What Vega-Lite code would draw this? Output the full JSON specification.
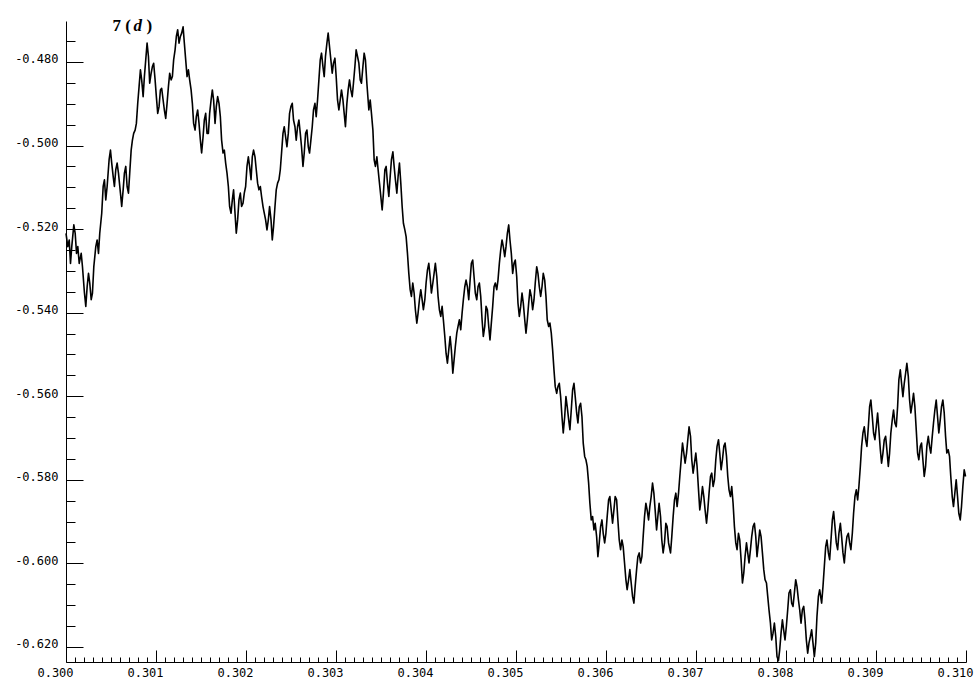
{
"$schema": "https://vega.github.io/schema/vega-lite/v6.json",
"width": 900,
"height": 641,
"autosize": {"type": "none"},
"padding": {"left": 66, "top": 21, "right": 10, "bottom": 33},
"background": "white",
"config": {"view": {"stroke": null}, "axis": {"grid": false, "domainColor": "black", "tickColor": "black", "labelColor": "black", "labelFont": "DejaVu Sans Mono", "labelFontSize": 12, "domainWidth": 1, "tickWidth": 1}},
"data": {"values": [
{"x":0.300000,"y":-0.5210},{"x":0.300020,"y":-0.5242},{"x":0.300036,"y":-0.5226},{"x":0.300050,"y":-0.5282},{"x":0.300064,"y":-0.5242},{"x":0.300087,"y":-0.5190},{"x":0.300102,"y":-0.5210},{"x":0.300117,"y":-0.5258},{"x":0.300131,"y":-0.5242},{"x":0.300147,"y":-0.5282},
{"x":0.300169,"y":-0.5258},{"x":0.300183,"y":-0.5290},{"x":0.300205,"y":-0.5353},{"x":0.300220,"y":-0.5385},{"x":0.300235,"y":-0.5338},{"x":0.300250,"y":-0.5306},{"x":0.300264,"y":-0.5329},{"x":0.300280,"y":-0.5369},{"x":0.300294,"y":-0.5353},{"x":0.300309,"y":-0.5290},
{"x":0.300331,"y":-0.5242},{"x":0.300346,"y":-0.5226},{"x":0.300361,"y":-0.5258},{"x":0.300375,"y":-0.5210},{"x":0.300397,"y":-0.5162},{"x":0.300413,"y":-0.5098},{"x":0.300427,"y":-0.5082},{"x":0.300442,"y":-0.5130},{"x":0.300457,"y":-0.5098},{"x":0.300479,"y":-0.5034},
{"x":0.300494,"y":-0.5011},{"x":0.300508,"y":-0.5042},{"x":0.300524,"y":-0.5074},{"x":0.300538,"y":-0.5098},{"x":0.300553,"y":-0.5058},{"x":0.300568,"y":-0.5042},{"x":0.300583,"y":-0.5066},{"x":0.300605,"y":-0.5114},{"x":0.300619,"y":-0.5146},{"x":0.300635,"y":-0.5106},
{"x":0.300649,"y":-0.5066},{"x":0.300664,"y":-0.5050},{"x":0.300679,"y":-0.5098},{"x":0.300694,"y":-0.5114},{"x":0.300708,"y":-0.5066},{"x":0.300724,"y":-0.5011},{"x":0.300738,"y":-0.4987},{"x":0.300752,"y":-0.4971},{"x":0.300768,"y":-0.4963},{"x":0.300782,"y":-0.4947},
{"x":0.300797,"y":-0.4899},{"x":0.300812,"y":-0.4859},{"x":0.300827,"y":-0.4819},{"x":0.300841,"y":-0.4843},{"x":0.300857,"y":-0.4883},{"x":0.300871,"y":-0.4835},{"x":0.300886,"y":-0.4795},{"x":0.300901,"y":-0.4755},{"x":0.300916,"y":-0.4787},{"x":0.300930,"y":-0.4851},
{"x":0.300946,"y":-0.4827},{"x":0.300960,"y":-0.4811},{"x":0.300974,"y":-0.4803},{"x":0.300990,"y":-0.4843},{"x":0.301004,"y":-0.4883},{"x":0.301019,"y":-0.4923},{"x":0.301034,"y":-0.4907},{"x":0.301049,"y":-0.4867},{"x":0.301063,"y":-0.4863},{"x":0.301079,"y":-0.4891},
{"x":0.301093,"y":-0.4915},{"x":0.301108,"y":-0.4935},{"x":0.301123,"y":-0.4899},{"x":0.301138,"y":-0.4859},{"x":0.301152,"y":-0.4827},{"x":0.301168,"y":-0.4843},{"x":0.301182,"y":-0.4835},{"x":0.301196,"y":-0.4795},{"x":0.301212,"y":-0.4771},{"x":0.301226,"y":-0.4739},
{"x":0.301241,"y":-0.4723},{"x":0.301256,"y":-0.4755},{"x":0.301271,"y":-0.4739},{"x":0.301285,"y":-0.4731},{"x":0.301301,"y":-0.4716},{"x":0.301315,"y":-0.4755},{"x":0.301330,"y":-0.4795},{"x":0.301345,"y":-0.4835},{"x":0.301360,"y":-0.4819},{"x":0.301374,"y":-0.4843},
{"x":0.301390,"y":-0.4867},{"x":0.301404,"y":-0.4899},{"x":0.301418,"y":-0.4947},{"x":0.301434,"y":-0.4963},{"x":0.301448,"y":-0.4931},{"x":0.301463,"y":-0.4915},{"x":0.301478,"y":-0.4947},{"x":0.301493,"y":-0.4987},{"x":0.301507,"y":-0.5018},{"x":0.301523,"y":-0.4979},
{"x":0.301537,"y":-0.4939},{"x":0.301552,"y":-0.4923},{"x":0.301567,"y":-0.4971},{"x":0.301582,"y":-0.4971},{"x":0.301596,"y":-0.4923},{"x":0.301612,"y":-0.4891},{"x":0.301626,"y":-0.4867},{"x":0.301640,"y":-0.4891},{"x":0.301656,"y":-0.4947},{"x":0.301670,"y":-0.4907},
{"x":0.301685,"y":-0.4883},{"x":0.301700,"y":-0.4899},{"x":0.301715,"y":-0.4931},{"x":0.301729,"y":-0.4987},{"x":0.301745,"y":-0.5018},{"x":0.301759,"y":-0.5011},{"x":0.301774,"y":-0.5042},{"x":0.301789,"y":-0.5066},{"x":0.301804,"y":-0.5098},{"x":0.301818,"y":-0.5146},
{"x":0.301834,"y":-0.5162},{"x":0.301848,"y":-0.5130},{"x":0.301862,"y":-0.5106},{"x":0.301878,"y":-0.5162},{"x":0.301892,"y":-0.5210},{"x":0.301907,"y":-0.5178},{"x":0.301922,"y":-0.5130},{"x":0.301937,"y":-0.5114},{"x":0.301951,"y":-0.5146},{"x":0.301967,"y":-0.5138},
{"x":0.301981,"y":-0.5114},{"x":0.301996,"y":-0.5098},{"x":0.302011,"y":-0.5050},{"x":0.302026,"y":-0.5027},{"x":0.302040,"y":-0.5050},{"x":0.302056,"y":-0.5082},{"x":0.302070,"y":-0.5027},{"x":0.302084,"y":-0.5011},{"x":0.302100,"y":-0.5027},{"x":0.302114,"y":-0.5058},
{"x":0.302129,"y":-0.5090},{"x":0.302144,"y":-0.5106},{"x":0.302159,"y":-0.5098},{"x":0.302173,"y":-0.5122},{"x":0.302189,"y":-0.5146},{"x":0.302203,"y":-0.5162},{"x":0.302218,"y":-0.5178},{"x":0.302233,"y":-0.5202},{"x":0.302248,"y":-0.5178},{"x":0.302262,"y":-0.5146},
{"x":0.302278,"y":-0.5178},{"x":0.302292,"y":-0.5226},{"x":0.302306,"y":-0.5194},{"x":0.302322,"y":-0.5146},{"x":0.302336,"y":-0.5106},{"x":0.302351,"y":-0.5090},{"x":0.302366,"y":-0.5082},{"x":0.302381,"y":-0.5058},{"x":0.302395,"y":-0.5018},{"x":0.302411,"y":-0.4971},
{"x":0.302425,"y":-0.4955},{"x":0.302440,"y":-0.4979},{"x":0.302455,"y":-0.5003},{"x":0.302470,"y":-0.4971},{"x":0.302484,"y":-0.4923},{"x":0.302499,"y":-0.4907},{"x":0.302514,"y":-0.4899},{"x":0.302528,"y":-0.4939},{"x":0.302544,"y":-0.4955},{"x":0.302558,"y":-0.4987},
{"x":0.302573,"y":-0.4955},{"x":0.302588,"y":-0.4939},{"x":0.302603,"y":-0.4971},{"x":0.302617,"y":-0.5003},{"x":0.302633,"y":-0.5050},{"x":0.302647,"y":-0.5018},{"x":0.302662,"y":-0.4971},{"x":0.302677,"y":-0.4963},{"x":0.302692,"y":-0.5003},{"x":0.302706,"y":-0.5018},
{"x":0.302721,"y":-0.4987},{"x":0.302736,"y":-0.4955},{"x":0.302750,"y":-0.4915},{"x":0.302766,"y":-0.4899},{"x":0.302780,"y":-0.4931},{"x":0.302795,"y":-0.4891},{"x":0.302810,"y":-0.4843},{"x":0.302825,"y":-0.4795},{"x":0.302839,"y":-0.4779},{"x":0.302855,"y":-0.4811},
{"x":0.302869,"y":-0.4835},{"x":0.302883,"y":-0.4787},{"x":0.302899,"y":-0.4755},{"x":0.302913,"y":-0.4731},{"x":0.302928,"y":-0.4763},{"x":0.302943,"y":-0.4795},{"x":0.302958,"y":-0.4827},{"x":0.302972,"y":-0.4803},{"x":0.302988,"y":-0.4791},{"x":0.303002,"y":-0.4835},
{"x":0.303017,"y":-0.4891},{"x":0.303032,"y":-0.4915},{"x":0.303047,"y":-0.4891},{"x":0.303061,"y":-0.4867},{"x":0.303077,"y":-0.4891},{"x":0.303091,"y":-0.4923},{"x":0.303105,"y":-0.4955},{"x":0.303121,"y":-0.4899},{"x":0.303135,"y":-0.4867},{"x":0.303150,"y":-0.4843},
{"x":0.303165,"y":-0.4867},{"x":0.303180,"y":-0.4883},{"x":0.303194,"y":-0.4851},{"x":0.303210,"y":-0.4811},{"x":0.303224,"y":-0.4771},{"x":0.303239,"y":-0.4787},{"x":0.303254,"y":-0.4803},{"x":0.303269,"y":-0.4843},{"x":0.303283,"y":-0.4851},{"x":0.303299,"y":-0.4811},
{"x":0.303313,"y":-0.4779},{"x":0.303327,"y":-0.4795},{"x":0.303343,"y":-0.4851},{"x":0.303365,"y":-0.4915},{"x":0.303380,"y":-0.4891},{"x":0.303394,"y":-0.4923},{"x":0.303410,"y":-0.4963},{"x":0.303424,"y":-0.5034},{"x":0.303438,"y":-0.5050},{"x":0.303454,"y":-0.5027},
{"x":0.303468,"y":-0.5058},{"x":0.303483,"y":-0.5090},{"x":0.303498,"y":-0.5122},{"x":0.303513,"y":-0.5154},{"x":0.303527,"y":-0.5114},{"x":0.303543,"y":-0.5058},{"x":0.303557,"y":-0.5050},{"x":0.303572,"y":-0.5090},{"x":0.303587,"y":-0.5122},{"x":0.303602,"y":-0.5074},
{"x":0.303616,"y":-0.5034},{"x":0.303632,"y":-0.5015},{"x":0.303646,"y":-0.5050},{"x":0.303660,"y":-0.5082},{"x":0.303676,"y":-0.5114},{"x":0.303690,"y":-0.5074},{"x":0.303705,"y":-0.5042},{"x":0.303720,"y":-0.5090},{"x":0.303735,"y":-0.5146},{"x":0.303749,"y":-0.5186},
{"x":0.303765,"y":-0.5202},{"x":0.303779,"y":-0.5218},{"x":0.303794,"y":-0.5258},{"x":0.303809,"y":-0.5306},{"x":0.303824,"y":-0.5345},{"x":0.303838,"y":-0.5361},{"x":0.303853,"y":-0.5329},{"x":0.303868,"y":-0.5353},{"x":0.303882,"y":-0.5393},{"x":0.303898,"y":-0.5425},
{"x":0.303912,"y":-0.5401},{"x":0.303927,"y":-0.5369},{"x":0.303942,"y":-0.5345},{"x":0.303957,"y":-0.5369},{"x":0.303971,"y":-0.5393},{"x":0.303987,"y":-0.5369},{"x":0.304001,"y":-0.5329},{"x":0.304016,"y":-0.5298},{"x":0.304031,"y":-0.5282},{"x":0.304046,"y":-0.5314},
{"x":0.304060,"y":-0.5353},{"x":0.304076,"y":-0.5329},{"x":0.304090,"y":-0.5306},{"x":0.304104,"y":-0.5282},{"x":0.304120,"y":-0.5314},{"x":0.304134,"y":-0.5361},{"x":0.304149,"y":-0.5393},{"x":0.304164,"y":-0.5409},{"x":0.304179,"y":-0.5385},{"x":0.304193,"y":-0.5417},
{"x":0.304209,"y":-0.5457},{"x":0.304223,"y":-0.5497},{"x":0.304238,"y":-0.5521},{"x":0.304253,"y":-0.5489},{"x":0.304268,"y":-0.5457},{"x":0.304282,"y":-0.5489},{"x":0.304298,"y":-0.5545},{"x":0.304312,"y":-0.5513},{"x":0.304326,"y":-0.5481},{"x":0.304342,"y":-0.5449},
{"x":0.304356,"y":-0.5433},{"x":0.304371,"y":-0.5417},{"x":0.304386,"y":-0.5441},{"x":0.304401,"y":-0.5401},{"x":0.304415,"y":-0.5369},{"x":0.304431,"y":-0.5338},{"x":0.304445,"y":-0.5322},{"x":0.304460,"y":-0.5338},{"x":0.304475,"y":-0.5369},{"x":0.304490,"y":-0.5322},
{"x":0.304504,"y":-0.5282},{"x":0.304519,"y":-0.5274},{"x":0.304534,"y":-0.5314},{"x":0.304548,"y":-0.5353},{"x":0.304564,"y":-0.5369},{"x":0.304578,"y":-0.5338},{"x":0.304593,"y":-0.5329},{"x":0.304608,"y":-0.5361},{"x":0.304623,"y":-0.5417},{"x":0.304637,"y":-0.5457},
{"x":0.304653,"y":-0.5433},{"x":0.304667,"y":-0.5385},{"x":0.304682,"y":-0.5393},{"x":0.304697,"y":-0.5433},{"x":0.304711,"y":-0.5465},{"x":0.304726,"y":-0.5425},{"x":0.304741,"y":-0.5385},{"x":0.304756,"y":-0.5338},{"x":0.304770,"y":-0.5329},{"x":0.304786,"y":-0.5345},
{"x":0.304800,"y":-0.5322},{"x":0.304815,"y":-0.5282},{"x":0.304830,"y":-0.5250},{"x":0.304845,"y":-0.5226},{"x":0.304859,"y":-0.5242},{"x":0.304875,"y":-0.5266},{"x":0.304889,"y":-0.5242},{"x":0.304904,"y":-0.5210},{"x":0.304919,"y":-0.5190},{"x":0.304933,"y":-0.5226},
{"x":0.304948,"y":-0.5258},{"x":0.304963,"y":-0.5306},{"x":0.304978,"y":-0.5282},{"x":0.304992,"y":-0.5274},{"x":0.305008,"y":-0.5314},{"x":0.305022,"y":-0.5377},{"x":0.305037,"y":-0.5409},{"x":0.305052,"y":-0.5385},{"x":0.305067,"y":-0.5353},{"x":0.305081,"y":-0.5377},
{"x":0.305097,"y":-0.5417},{"x":0.305111,"y":-0.5449},{"x":0.305126,"y":-0.5417},{"x":0.305141,"y":-0.5377},{"x":0.305155,"y":-0.5345},{"x":0.305170,"y":-0.5361},{"x":0.305185,"y":-0.5393},{"x":0.305200,"y":-0.5369},{"x":0.305214,"y":-0.5329},{"x":0.305230,"y":-0.5290},
{"x":0.305244,"y":-0.5306},{"x":0.305259,"y":-0.5338},{"x":0.305274,"y":-0.5361},{"x":0.305289,"y":-0.5338},{"x":0.305303,"y":-0.5306},{"x":0.305319,"y":-0.5322},{"x":0.305333,"y":-0.5361},{"x":0.305347,"y":-0.5417},{"x":0.305363,"y":-0.5433},{"x":0.305377,"y":-0.5425},
{"x":0.305392,"y":-0.5449},{"x":0.305407,"y":-0.5489},{"x":0.305422,"y":-0.5537},{"x":0.305436,"y":-0.5577},{"x":0.305452,"y":-0.5593},{"x":0.305466,"y":-0.5577},{"x":0.305481,"y":-0.5569},{"x":0.305496,"y":-0.5601},{"x":0.305511,"y":-0.5649},{"x":0.305525,"y":-0.5688},
{"x":0.305541,"y":-0.5649},{"x":0.305555,"y":-0.5601},{"x":0.305569,"y":-0.5625},{"x":0.305585,"y":-0.5656},{"x":0.305599,"y":-0.5680},{"x":0.305614,"y":-0.5633},{"x":0.305629,"y":-0.5585},{"x":0.305644,"y":-0.5569},{"x":0.305658,"y":-0.5601},{"x":0.305674,"y":-0.5640},
{"x":0.305688,"y":-0.5664},{"x":0.305703,"y":-0.5625},{"x":0.305718,"y":-0.5617},{"x":0.305733,"y":-0.5649},{"x":0.305747,"y":-0.5712},{"x":0.305763,"y":-0.5744},{"x":0.305777,"y":-0.5752},{"x":0.305791,"y":-0.5768},{"x":0.305807,"y":-0.5808},{"x":0.305821,"y":-0.5856},
{"x":0.305836,"y":-0.5896},{"x":0.305851,"y":-0.5888},{"x":0.305866,"y":-0.5920},{"x":0.305880,"y":-0.5904},{"x":0.305896,"y":-0.5936},{"x":0.305910,"y":-0.5984},{"x":0.305925,"y":-0.5951},{"x":0.305940,"y":-0.5912},{"x":0.305955,"y":-0.5896},{"x":0.305969,"y":-0.5928},
{"x":0.305985,"y":-0.5951},{"x":0.305999,"y":-0.5928},{"x":0.306013,"y":-0.5888},{"x":0.306029,"y":-0.5848},{"x":0.306043,"y":-0.5840},{"x":0.306058,"y":-0.5872},{"x":0.306073,"y":-0.5904},{"x":0.306088,"y":-0.5872},{"x":0.306102,"y":-0.5840},{"x":0.306118,"y":-0.5848},
{"x":0.306132,"y":-0.5896},{"x":0.306147,"y":-0.5944},{"x":0.306162,"y":-0.5967},{"x":0.306177,"y":-0.5944},{"x":0.306191,"y":-0.5960},{"x":0.306206,"y":-0.5999},{"x":0.306221,"y":-0.6039},{"x":0.306235,"y":-0.6063},{"x":0.306251,"y":-0.6039},{"x":0.306265,"y":-0.6015},
{"x":0.306280,"y":-0.6047},{"x":0.306295,"y":-0.6079},{"x":0.306310,"y":-0.6095},{"x":0.306324,"y":-0.6055},{"x":0.306340,"y":-0.6015},{"x":0.306354,"y":-0.5984},{"x":0.306369,"y":-0.5975},{"x":0.306384,"y":-0.5999},{"x":0.306399,"y":-0.5984},{"x":0.306413,"y":-0.5936},
{"x":0.306428,"y":-0.5888},{"x":0.306443,"y":-0.5856},{"x":0.306457,"y":-0.5872},{"x":0.306473,"y":-0.5896},{"x":0.306487,"y":-0.5864},{"x":0.306502,"y":-0.5840},{"x":0.306517,"y":-0.5808},{"x":0.306532,"y":-0.5832},{"x":0.306546,"y":-0.5872},{"x":0.306562,"y":-0.5920},
{"x":0.306576,"y":-0.5888},{"x":0.306590,"y":-0.5856},{"x":0.306606,"y":-0.5888},{"x":0.306620,"y":-0.5944},{"x":0.306635,"y":-0.5975},{"x":0.306650,"y":-0.5951},{"x":0.306665,"y":-0.5904},{"x":0.306679,"y":-0.5912},{"x":0.306695,"y":-0.5951},{"x":0.306717,"y":-0.5975},
{"x":0.306731,"y":-0.5936},{"x":0.306746,"y":-0.5888},{"x":0.306761,"y":-0.5848},{"x":0.306776,"y":-0.5832},{"x":0.306790,"y":-0.5864},{"x":0.306806,"y":-0.5832},{"x":0.306820,"y":-0.5792},{"x":0.306835,"y":-0.5752},{"x":0.306850,"y":-0.5712},{"x":0.306865,"y":-0.5736},
{"x":0.306879,"y":-0.5760},{"x":0.306895,"y":-0.5736},{"x":0.306909,"y":-0.5704},{"x":0.306923,"y":-0.5673},{"x":0.306939,"y":-0.5696},{"x":0.306953,"y":-0.5752},{"x":0.306968,"y":-0.5784},{"x":0.306983,"y":-0.5760},{"x":0.306998,"y":-0.5736},{"x":0.307012,"y":-0.5768},
{"x":0.307028,"y":-0.5824},{"x":0.307042,"y":-0.5872},{"x":0.307057,"y":-0.5848},{"x":0.307072,"y":-0.5816},{"x":0.307087,"y":-0.5840},{"x":0.307101,"y":-0.5872},{"x":0.307117,"y":-0.5904},{"x":0.307131,"y":-0.5872},{"x":0.307145,"y":-0.5832},{"x":0.307161,"y":-0.5792},
{"x":0.307175,"y":-0.5784},{"x":0.307190,"y":-0.5816},{"x":0.307205,"y":-0.5800},{"x":0.307220,"y":-0.5752},{"x":0.307234,"y":-0.5720},{"x":0.307250,"y":-0.5704},{"x":0.307264,"y":-0.5736},{"x":0.307279,"y":-0.5776},{"x":0.307294,"y":-0.5752},{"x":0.307309,"y":-0.5720},
{"x":0.307323,"y":-0.5712},{"x":0.307339,"y":-0.5744},{"x":0.307353,"y":-0.5792},{"x":0.307367,"y":-0.5824},{"x":0.307383,"y":-0.5840},{"x":0.307397,"y":-0.5816},{"x":0.307412,"y":-0.5856},{"x":0.307427,"y":-0.5912},{"x":0.307442,"y":-0.5951},{"x":0.307456,"y":-0.5967},
{"x":0.307472,"y":-0.5928},{"x":0.307486,"y":-0.5944},{"x":0.307501,"y":-0.5991},{"x":0.307516,"y":-0.6047},{"x":0.307531,"y":-0.6023},{"x":0.307545,"y":-0.5984},{"x":0.307561,"y":-0.5951},{"x":0.307575,"y":-0.5975},{"x":0.307589,"y":-0.5999},{"x":0.307605,"y":-0.5967},
{"x":0.307619,"y":-0.5936},{"x":0.307634,"y":-0.5912},{"x":0.307649,"y":-0.5904},{"x":0.307664,"y":-0.5936},{"x":0.307678,"y":-0.5984},{"x":0.307694,"y":-0.5951},{"x":0.307708,"y":-0.5920},{"x":0.307723,"y":-0.5936},{"x":0.307738,"y":-0.5975},{"x":0.307753,"y":-0.6015},
{"x":0.307767,"y":-0.6039},{"x":0.307783,"y":-0.6047},{"x":0.307797,"y":-0.6079},{"x":0.307811,"y":-0.6111},{"x":0.307827,"y":-0.6143},{"x":0.307841,"y":-0.6183},{"x":0.307856,"y":-0.6167},{"x":0.307871,"y":-0.6143},{"x":0.307886,"y":-0.6175},{"x":0.307900,"y":-0.6223},
{"x":0.307916,"y":-0.6233},{"x":0.307930,"y":-0.6207},{"x":0.307945,"y":-0.6167},{"x":0.307960,"y":-0.6135},{"x":0.307974,"y":-0.6159},{"x":0.307989,"y":-0.6183},{"x":0.308004,"y":-0.6151},{"x":0.308019,"y":-0.6111},{"x":0.308033,"y":-0.6071},{"x":0.308049,"y":-0.6063},
{"x":0.308063,"y":-0.6095},{"x":0.308078,"y":-0.6103},{"x":0.308093,"y":-0.6071},{"x":0.308108,"y":-0.6039},{"x":0.308122,"y":-0.6055},{"x":0.308138,"y":-0.6087},{"x":0.308152,"y":-0.6111},{"x":0.308167,"y":-0.6143},{"x":0.308182,"y":-0.6111},{"x":0.308197,"y":-0.6103},
{"x":0.308211,"y":-0.6135},{"x":0.308226,"y":-0.6183},{"x":0.308241,"y":-0.6215},{"x":0.308255,"y":-0.6191},{"x":0.308271,"y":-0.6175},{"x":0.308285,"y":-0.6159},{"x":0.308300,"y":-0.6191},{"x":0.308315,"y":-0.6223},{"x":0.308330,"y":-0.6191},{"x":0.308344,"y":-0.6127},
{"x":0.308360,"y":-0.6079},{"x":0.308374,"y":-0.6063},{"x":0.308396,"y":-0.6095},{"x":0.308411,"y":-0.6055},{"x":0.308426,"y":-0.6007},{"x":0.308441,"y":-0.5960},{"x":0.308455,"y":-0.5944},{"x":0.308471,"y":-0.5975},{"x":0.308485,"y":-0.5991},{"x":0.308500,"y":-0.5944},
{"x":0.308515,"y":-0.5896},{"x":0.308529,"y":-0.5876},{"x":0.308544,"y":-0.5912},{"x":0.308559,"y":-0.5951},{"x":0.308574,"y":-0.5967},{"x":0.308588,"y":-0.5928},{"x":0.308604,"y":-0.5904},{"x":0.308618,"y":-0.5936},{"x":0.308633,"y":-0.5975},{"x":0.308648,"y":-0.5999},
{"x":0.308663,"y":-0.5960},{"x":0.308677,"y":-0.5936},{"x":0.308693,"y":-0.5928},{"x":0.308707,"y":-0.5951},{"x":0.308721,"y":-0.5967},{"x":0.308737,"y":-0.5928},{"x":0.308751,"y":-0.5880},{"x":0.308766,"y":-0.5840},{"x":0.308781,"y":-0.5824},{"x":0.308796,"y":-0.5848},
{"x":0.308810,"y":-0.5816},{"x":0.308826,"y":-0.5768},{"x":0.308840,"y":-0.5720},{"x":0.308855,"y":-0.5688},{"x":0.308870,"y":-0.5673},{"x":0.308885,"y":-0.5704},{"x":0.308899,"y":-0.5720},{"x":0.308915,"y":-0.5673},{"x":0.308929,"y":-0.5625},{"x":0.308943,"y":-0.5609},
{"x":0.308959,"y":-0.5649},{"x":0.308973,"y":-0.5688},{"x":0.308988,"y":-0.5704},{"x":0.309003,"y":-0.5673},{"x":0.309018,"y":-0.5640},{"x":0.309032,"y":-0.5680},{"x":0.309048,"y":-0.5728},{"x":0.309062,"y":-0.5760},{"x":0.309077,"y":-0.5736},{"x":0.309092,"y":-0.5704},
{"x":0.309107,"y":-0.5696},{"x":0.309121,"y":-0.5728},{"x":0.309137,"y":-0.5768},{"x":0.309151,"y":-0.5736},{"x":0.309165,"y":-0.5688},{"x":0.309181,"y":-0.5656},{"x":0.309195,"y":-0.5633},{"x":0.309210,"y":-0.5664},{"x":0.309225,"y":-0.5673},{"x":0.309240,"y":-0.5625},
{"x":0.309254,"y":-0.5561},{"x":0.309270,"y":-0.5537},{"x":0.309284,"y":-0.5569},{"x":0.309299,"y":-0.5601},{"x":0.309314,"y":-0.5569},{"x":0.309329,"y":-0.5545},{"x":0.309343,"y":-0.5521},{"x":0.309359,"y":-0.5553},{"x":0.309373,"y":-0.5609},{"x":0.309387,"y":-0.5640},
{"x":0.309403,"y":-0.5617},{"x":0.309417,"y":-0.5593},{"x":0.309432,"y":-0.5625},{"x":0.309447,"y":-0.5680},{"x":0.309462,"y":-0.5736},{"x":0.309476,"y":-0.5752},{"x":0.309492,"y":-0.5720},{"x":0.309506,"y":-0.5712},{"x":0.309521,"y":-0.5752},{"x":0.309536,"y":-0.5792},
{"x":0.309551,"y":-0.5768},{"x":0.309565,"y":-0.5720},{"x":0.309581,"y":-0.5696},{"x":0.309595,"y":-0.5720},{"x":0.309609,"y":-0.5736},{"x":0.309625,"y":-0.5696},{"x":0.309639,"y":-0.5664},{"x":0.309654,"y":-0.5633},{"x":0.309669,"y":-0.5609},{"x":0.309684,"y":-0.5649},
{"x":0.309698,"y":-0.5688},{"x":0.309714,"y":-0.5656},{"x":0.309728,"y":-0.5625},{"x":0.309743,"y":-0.5609},{"x":0.309758,"y":-0.5640},{"x":0.309773,"y":-0.5696},{"x":0.309787,"y":-0.5736},{"x":0.309802,"y":-0.5728},{"x":0.309817,"y":-0.5744},{"x":0.309831,"y":-0.5792},
{"x":0.309847,"y":-0.5840},{"x":0.309861,"y":-0.5864},{"x":0.309876,"y":-0.5832},{"x":0.309891,"y":-0.5800},{"x":0.309906,"y":-0.5840},{"x":0.309920,"y":-0.5880},{"x":0.309936,"y":-0.5896},{"x":0.309950,"y":-0.5864},{"x":0.309965,"y":-0.5816},{"x":0.309980,"y":-0.5776},
{"x":0.309995,"y":-0.5792}
]},
"layer": [
{"mark": {"type": "line", "color": "black", "strokeWidth": 1.6, "strokeJoin": "round"},
 "encoding": {
  "x": {"field": "x", "type": "quantitative", "title": null,
        "scale": {"domain": [0.3, 0.31], "nice": false, "zero": false},
        "axis": {"title": null, "tickCount": 500,
          "values": [0.3,0.3001,0.3002,0.3003,0.3004,0.3005,0.3006,0.3007,0.3008,0.3009,0.301,0.3011,0.3012,0.3013,0.3014,0.3015,0.3016,0.3017,0.3018,0.3019,0.302,0.3021,0.3022,0.3023,0.3024,0.3025,0.3026,0.3027,0.3028,0.3029,0.303,0.3031,0.3032,0.3033,0.3034,0.3035,0.3036,0.3037,0.3038,0.3039,0.304,0.3041,0.3042,0.3043,0.3044,0.3045,0.3046,0.3047,0.3048,0.3049,0.305,0.3051,0.3052,0.3053,0.3054,0.3055,0.3056,0.3057,0.3058,0.3059,0.306,0.3061,0.3062,0.3063,0.3064,0.3065,0.3066,0.3067,0.3068,0.3069,0.307,0.3071,0.3072,0.3073,0.3074,0.3075,0.3076,0.3077,0.3078,0.3079,0.308,0.3081,0.3082,0.3083,0.3084,0.3085,0.3086,0.3087,0.3088,0.3089,0.309,0.3091,0.3092,0.3093,0.3094,0.3095,0.3096,0.3097,0.3098,0.3099,0.31],
          "tickSize": {"condition": {"test": "abs(datum.value*1000 - round(datum.value*1000)) < 0.01", "value": -12}, "value": -5},
          "labelExpr": "abs(datum.value*1000 - round(datum.value*1000)) < 0.01 ? format(datum.value, '.3f') : ''",
          "labelPadding": 17, "labelOffset": -11, "labelFlush": false, "labelOverlap": false, "labelBound": false, "labelBaseline": "top", "labelAlign": "center"}},
  "y": {"field": "y", "type": "quantitative", "title": null,
        "scale": {"domain": [-0.6236, -0.4702], "nice": false, "zero": false},
        "axis": {"title": null, "tickCount": 300,
          "values": [-0.62,-0.615,-0.61,-0.605,-0.6,-0.595,-0.59,-0.585,-0.58,-0.575,-0.57,-0.565,-0.56,-0.555,-0.55,-0.545,-0.54,-0.535,-0.53,-0.525,-0.52,-0.515,-0.51,-0.505,-0.5,-0.495,-0.49,-0.485,-0.48,-0.475],
          "tickSize": {"condition": {"test": "abs(datum.value*50 - round(datum.value*50)) < 0.01", "value": -17}, "value": -9},
          "labelExpr": "abs(datum.value*50 - round(datum.value*50)) < 0.01 ? replace(format(datum.value, '.3f'), '\u2212', '-') : ''",
          "labelPadding": 25, "labelOffset": -3, "labelOverlap": false, "labelBound": false, "labelFlush": false}}
 }},
{"data": {"values": [{"label": "7 ("}]},
 "mark": {"type": "text", "font": "Liberation Serif", "fontSize": 17, "fontWeight": "bold", "align": "left", "baseline": "alphabetic", "color": "black"},
 "encoding": {"x": {"datum": 0.300516, "type": "quantitative", "title": null}, "y": {"datum": -0.47258, "type": "quantitative", "title": null}, "text": {"field": "label"}}},
{"data": {"values": [{"label": "d"}]},
 "mark": {"type": "text", "font": "Liberation Serif", "fontSize": 17, "fontWeight": "bold", "fontStyle": "italic", "align": "left", "baseline": "alphabetic", "dx": 21, "color": "black"},
 "encoding": {"x": {"datum": 0.300516, "type": "quantitative", "title": null}, "y": {"datum": -0.47258, "type": "quantitative", "title": null}, "text": {"field": "label"}}},
{"data": {"values": [{"label": ")"}]},
 "mark": {"type": "text", "font": "Liberation Serif", "fontSize": 17, "fontWeight": "bold", "align": "left", "baseline": "alphabetic", "dx": 34, "color": "black"},
 "encoding": {"x": {"datum": 0.300516, "type": "quantitative", "title": null}, "y": {"datum": -0.47258, "type": "quantitative", "title": null}, "text": {"field": "label"}}}
]
}
